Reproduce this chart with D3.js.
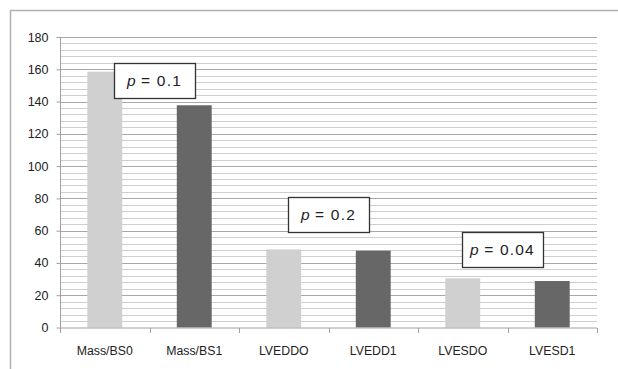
<!DOCTYPE html>
<html><head><meta charset="utf-8">
<script src="https://cdn.jsdelivr.net/npm/d3@7"></script>
<style>body{margin:0;background:#fff}svg{display:block}</style>
</head><body><svg id="c" width="618" height="369"></svg>
<script>
const categories = ["Mass/BS0","Mass/BS1","LVEDDO","LVEDD1","LVESDO","LVESD1"];
const values = [158.5,137.7,48.4,47.6,30.5,28.8];
const groups = [0,1,0,1,0,1];
const yTicks = [0,20,40,60,80,100,120,140,160,180];
const pLabels = ["0.1","0.2","0.04"];
const pAnchorCats = [["Mass/BS0","Mass/BS1"],["LVEDDO","LVEDD1"],["LVESDO","LVESD1"]];
const pValuesY = [164,81,59];

const svg = d3.select("#c");
const font = "Arial, 'Liberation Sans', sans-serif";
svg.append("path").attr("d","M10.5,369 V10.5 H618").attr("fill","none").attr("stroke","#b0b0b0").attr("stroke-width",1.5);

const x = d3.scaleBand().domain(categories).range([60,597]).paddingInner(0.61).paddingOuter(0.305);
const xb = d3.scaleBand().domain(categories).range([60,597]);
const y = d3.scaleLinear().domain([0,180]).range([327.5,37]);

const minor = d3.range(0,181,4).filter(v=>v%20!==0);
svg.append("g").selectAll("line").data(minor).join("line")
  .attr("x1",60).attr("x2",597).attr("y1",d=>Math.round(y(d))+0.5).attr("y2",d=>Math.round(y(d))+0.5)
  .attr("stroke","#cfcfcf").attr("stroke-width",1);
svg.append("g").selectAll("line").data(yTicks.filter(d=>d>0)).join("line")
  .attr("x1",60).attr("x2",597).attr("y1",d=>Math.round(y(d))+0.5).attr("y2",d=>Math.round(y(d))+0.5)
  .attr("stroke","#a8a8a8").attr("stroke-width",1);

svg.append("g").selectAll("rect").data(categories).join("rect")
  .attr("x",d=>x(d)).attr("width",x.bandwidth())
  .attr("y",(d,i)=>y(values[i])).attr("height",(d,i)=>y(0)-y(values[i]))
  .attr("fill",(d,i)=>groups[i]===0?"#d0d0d0":"#676767");

const yAxis = d3.axisLeft(y).tickValues(yTicks).tickSize(4).tickPadding(8);
const ga = svg.append("g").attr("transform","translate(60.5,0)").call(yAxis);
ga.select(".domain").attr("stroke","#a0a0a0").attr("d","M-0,37.5V328");
ga.selectAll(".tick line").attr("stroke","#a0a0a0");
ga.selectAll("text").attr("font-family",font).attr("font-size",12.5).attr("fill","#222");

const gx = svg.append("g").attr("transform","translate(0,328)");
gx.append("line").attr("x1",60).attr("x2",597).attr("y1",0).attr("y2",0).attr("stroke","#a0a0a0");
const bounds = categories.map(c=>xb(c)).concat([xb.range()[1]]);
gx.selectAll("line.t").data(bounds).join("line").attr("class","t")
  .attr("x1",d=>Math.round(d)+0.5).attr("x2",d=>Math.round(d)+0.5).attr("y1",0).attr("y2",5).attr("stroke","#a0a0a0");
gx.selectAll("text").data(categories).join("text")
  .attr("x",d=>xb(d)+xb.bandwidth()/2).attr("y",27)
  .attr("text-anchor","middle").attr("font-family",font).attr("font-size",12.3).attr("fill","#222")
  .text(d=>d);

const shift = [5,0,-5];
pLabels.forEach((lab,k)=>{
  const c = pAnchorCats[k];
  const cx = (xb(c[0])+xb(c[1])+xb.bandwidth())/2 + shift[k];
  const w = 81, h = 35;
  const top = y(pValuesY[k]);
  const g = svg.append("g");
  g.append("rect").attr("x",Math.round(cx-w/2)+0.5).attr("y",Math.round(top)+0.5).attr("width",w).attr("height",h)
    .attr("fill","#fff").attr("stroke","#333").attr("stroke-width",1.3);
  const t = g.append("text").attr("x",cx).attr("y",top+h/2+5.5).attr("text-anchor","middle")
    .attr("font-family",font).attr("font-size",15.5).attr("fill","#222");
  t.append("tspan").attr("font-style","italic").text("p");
  t.append("tspan").text("\u00a0=\u00a0" + lab).attr("letter-spacing",1.2);
});
</script></body></html>
